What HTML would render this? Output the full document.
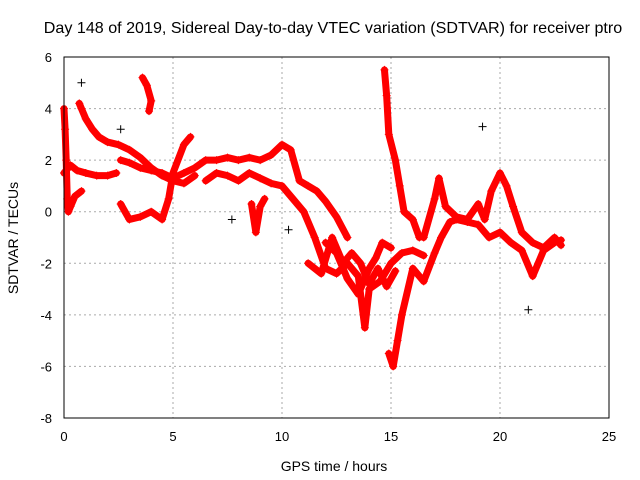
<!DOCTYPE html>
<html><head><meta charset="utf-8"><style>
body{margin:0;background:#fff}
svg{display:block;font-family:"Liberation Sans",sans-serif}
</style></head><body>
<svg id="c" width="640" height="480">
<text x="333" y="33" font-size="16.1" text-anchor="middle">Day 148 of 2019, Sidereal Day-to-day VTEC variation (SDTVAR) for receiver ptro</text>
<text x="334" y="471" font-size="14" text-anchor="middle">GPS time / hours</text>
<text transform="translate(18,238) rotate(-90)" font-size="14" text-anchor="middle">SDTVAR / TECUs</text>
<g id="grid"></g><g id="marks"></g>
<rect x="64" y="57" width="545" height="361" fill="none" stroke="#000"/>
</svg>
<script>
const xTicks=[0,5,10,15,20,25];
const yTicks=[-8,-6,-4,-2,0,2,4,6];
const trackEarlyHigh=[[0.7,4.2],[0.8,4.0],[1.0,3.6],[1.3,3.2],[1.6,2.9],[2.0,2.7],[2.5,2.6],[3.0,2.4],[3.5,2.1],[4.0,1.7],[4.5,1.4],[5.0,1.2],[5.5,1.1],[6.0,1.4]];
const trackEarlyLow=[[0,1.5],[0.3,1.8],[0.6,1.6],[1.0,1.5],[1.5,1.4],[2.0,1.4],[2.4,1.5]];
const trackStart=[[0,4.0],[0.05,3.2],[0.1,2.0],[0.15,0.5],[0.2,0],[0.3,0.2],[0.5,0.6],[0.8,0.8]];
const trackDip=[[2.6,0.3],[3.0,-0.3],[3.5,-0.2],[4.0,0.0],[4.5,-0.3],[4.8,0.5],[5.0,1.5],[5.5,2.6],[5.8,2.9]];
const trackSpike=[[3.6,5.2],[3.8,4.9],[4.0,4.3],[3.9,3.9]];
const trackMid=[[2.6,2.0],[3.0,1.9],[3.5,1.7],[4.0,1.6],[4.5,1.5],[5.0,1.3],[5.5,1.5],[6.0,1.7],[6.5,2.0],[7.0,2.0],[7.5,2.1],[8.0,2.0],[8.5,2.1],[9.0,2.0],[9.5,2.2],[10.0,2.6],[10.4,2.4],[10.8,1.2],[11.2,1.0],[11.6,0.8],[12.0,0.4],[12.5,-0.2],[13.0,-1.0]];
const trackLowMid=[[6.5,1.2],[7.0,1.5],[7.5,1.4],[8.0,1.2],[8.5,1.5],[9.0,1.3],[9.5,1.1],[10.0,1.0],[10.5,0.5],[11.0,0.0],[11.5,-1.0],[12.0,-2.2],[12.5,-2.4],[13.0,-2.0],[13.5,-2.5],[13.8,-4.5],[14.0,-3.0],[14.5,-2.7],[15.0,-2.0],[15.5,-1.6],[16.0,-1.5],[16.5,-1.7]];
const trackDrop=[[8.6,0.3],[8.8,-0.8],[9.0,0.2],[9.2,0.5]];
const trackMidLate=[[12.0,-1.2],[12.5,-1.6],[13.0,-2.6],[13.5,-3.2],[14.0,-2.2],[14.3,-1.8],[14.6,-1.2],[15.0,-1.4]];
const trackCloud=[[11.2,-2.0],[11.8,-2.4],[12.3,-1.0],[12.8,-2.0],[13.2,-1.6],[13.6,-2.0],[14.0,-2.8],[14.4,-2.2],[14.8,-2.9],[15.2,-2.3]];
const trackPeak=[[14.7,5.5],[14.8,4.5],[14.9,3.0],[15.2,2.0],[15.4,1.0],[15.6,0.0],[16.0,-0.3],[16.3,-1.0]];
const trackNeg=[[14.9,-5.5],[15.1,-6.0],[15.3,-5.0],[15.5,-4.0],[16.0,-2.2],[16.5,-2.7],[17.0,-1.6],[17.3,-1.0],[17.7,-0.4],[18.0,-0.3],[18.5,-0.4],[19.0,-0.5],[19.5,-1.0],[20.0,-0.8],[20.5,-1.2],[21.0,-1.5],[21.5,-2.5],[22.0,-1.5],[22.5,-1.2],[22.8,-1.1]];
const trackBump=[[16.5,-1.0],[17.0,0.5],[17.2,1.3],[17.5,0.2],[18.0,-0.2],[18.5,-0.3],[19.0,0.3],[19.3,-0.3],[19.6,0.8],[20.0,1.5],[20.3,1.0],[20.6,0.2],[21.0,-0.8],[21.5,-1.2],[22.0,-1.4],[22.5,-1.0],[22.8,-1.3]];
const strayBlack=[[19.2,3.3],[21.3,-3.8],[7.7,-0.3],[10.3,-0.7],[2.6,3.2],[0.8,5.0]];
const tracks=[trackEarlyHigh,trackEarlyLow,trackStart,trackDip,trackSpike,trackMid,trackLowMid,trackDrop,trackMidLate,trackCloud,trackPeak,trackNeg,trackBump];
const X=v=>64+v*545/25, Y=v=>418-(v+8)*361/14;
const NS="http://www.w3.org/2000/svg";
const g=document.getElementById('grid'), m=document.getElementById('marks');
function mk(tag,at,par){const e=document.createElementNS(NS,tag);for(const k in at)e.setAttribute(k,at[k]);par.appendChild(e);return e;}
xTicks.forEach(t=>{
 const l=mk('line',{x1:X(t),x2:X(t),y1:57,y2:418,stroke:'#aaa','stroke-dasharray':'2,3'},g);
 
 
 const tx=mk('text',{x:X(t),y:441,'font-size':13,'text-anchor':'middle'},g);tx.textContent=t;
 
 
});
yTicks.forEach(t=>{
 const l=mk('line',{x1:64,x2:609,y1:Y(t),y2:Y(t),stroke:'#aaa','stroke-dasharray':'2,3'},g);
 
 
 const tx=mk('text',{x:52,y:Y(t)+5,'font-size':13,'text-anchor':'end'},g);tx.textContent=t;
 
 
});
function plus(x,y,c){const p=mk('path',{d:`M${x-4},${y}h8M${x},${y-4}v8`,stroke:c,'stroke-width':1,fill:'none'},m);
 
 }
tracks.forEach(tr=>{
 const pl=mk('polyline',{points:tr.map(p=>X(p[0])+','+Y(p[1])).join(' '),fill:'none',stroke:'#f00','stroke-width':7,'stroke-linejoin':'round','stroke-linecap':'round'},m);
 
 
 tr.forEach(p=>plus(X(p[0]),Y(p[1]),'#f00'));
});
strayBlack.forEach(p=>plus(X(p[0]),Y(p[1]),'#000'));
</script>
</body></html>
